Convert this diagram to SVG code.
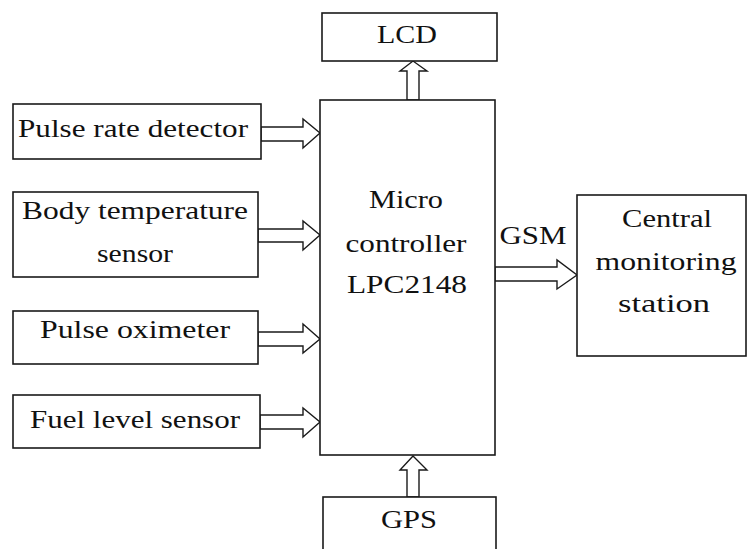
<svg xmlns="http://www.w3.org/2000/svg" width="748" height="549" viewBox="0 0 748 549">
<style>
.box{fill:#fff;stroke:#1a1a1a;stroke-width:1.6}
.arr{fill:#fff;stroke:#1a1a1a;stroke-width:1.4;stroke-linejoin:miter}
text{font-family:"Liberation Serif","Times New Roman",serif;font-size:26px;fill:#111;text-anchor:middle}
</style>
<rect width="748" height="549" fill="#fff"/>
<g id="connectors">
<polygon class="arr" points="261,127 303,127 303,119 320,133 303,148 303,141 261,141"/>
<polygon class="arr" points="258,229 303,229 303,221 320,235 303,250 303,242 258,242"/>
<polygon class="arr" points="258,332 303,332 303,324 320,339 303,353 303,346 258,346"/>
<polygon class="arr" points="260,415 303,415 303,408 320,422 303,437 303,429 260,429"/>
<polygon class="arr" points="407,100 407,71 400,71 413,61 427,71 419,71 419,100"/>
<polygon class="arr" points="407,497 407,470 400,470 413,456 427,470 419,470 419,497"/>
<polygon class="arr" points="495,267 557,267 557,260 577,275 557,289 557,281 495,281"/>
<text id="gsm" x="533" y="244" textLength="67" lengthAdjust="spacingAndGlyphs">GSM</text>
</g>
<g id="lcd">
<rect class="box" x="322" y="13" width="175" height="48"/>
<text x="407" y="43" textLength="60" lengthAdjust="spacingAndGlyphs">LCD</text>
</g>
<g id="micro">
<rect class="box" x="320" y="100" width="175" height="355"/>
<text x="406" y="208" textLength="74" lengthAdjust="spacingAndGlyphs">Micro</text>
<text x="406" y="252" textLength="121" lengthAdjust="spacingAndGlyphs">controller</text>
<text x="407" y="293" textLength="120" lengthAdjust="spacingAndGlyphs">LPC2148</text>
</g>
<g id="gps">
<rect class="box" x="323" y="497" width="173" height="70"/>
<text x="409" y="528" textLength="56" lengthAdjust="spacingAndGlyphs">GPS</text>
</g>
<g id="pulse-rate">
<rect class="box" x="13" y="104" width="248" height="55"/>
<text x="133" y="137" textLength="230" lengthAdjust="spacingAndGlyphs">Pulse rate detector</text>
</g>
<g id="body-temp">
<rect class="box" x="13" y="192" width="245" height="85"/>
<text x="135" y="219" textLength="226" lengthAdjust="spacingAndGlyphs">Body temperature</text>
<text x="135" y="262" textLength="76" lengthAdjust="spacingAndGlyphs">sensor</text>
</g>
<g id="pulse-ox">
<rect class="box" x="13" y="311" width="245" height="53"/>
<text x="135" y="338" textLength="190" lengthAdjust="spacingAndGlyphs">Pulse oximeter</text>
</g>
<g id="fuel">
<rect class="box" x="13" y="395" width="247" height="53"/>
<text x="135" y="428" textLength="210" lengthAdjust="spacingAndGlyphs">Fuel level sensor</text>
</g>
<g id="central">
<rect class="box" x="577" y="195" width="169" height="161"/>
<text x="667" y="227" textLength="90" lengthAdjust="spacingAndGlyphs">Central</text>
<text x="666" y="270" textLength="141" lengthAdjust="spacingAndGlyphs">monitoring</text>
<text x="664" y="312" textLength="92" lengthAdjust="spacingAndGlyphs">station</text>
</g>
</svg>
